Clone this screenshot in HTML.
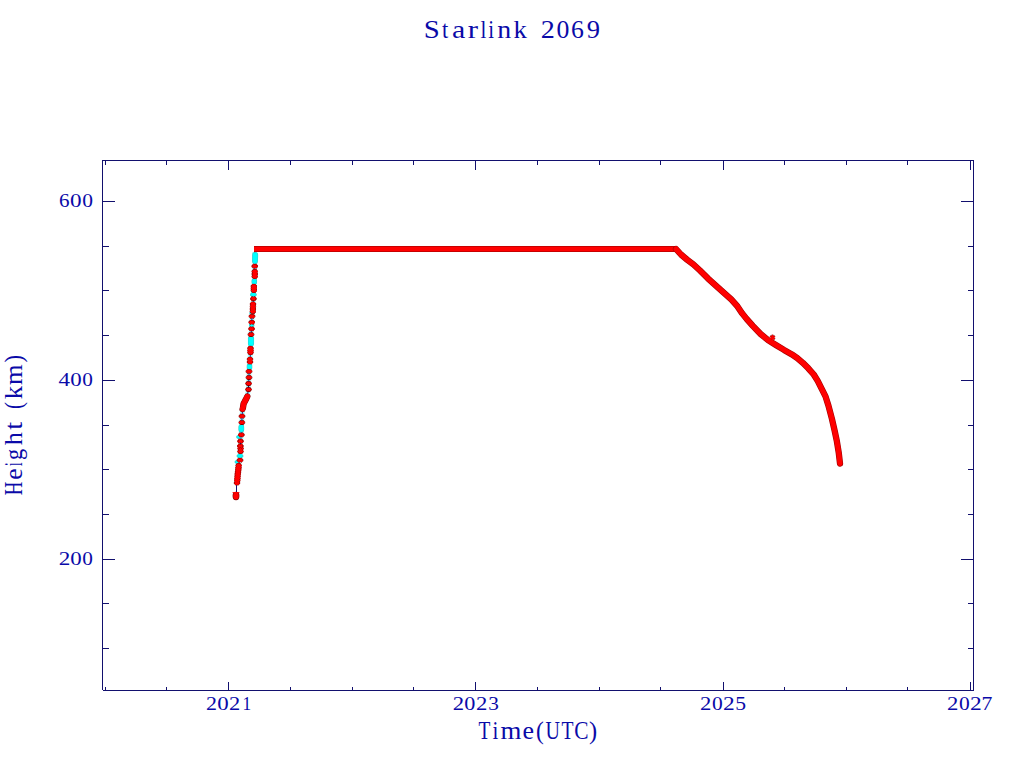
<!DOCTYPE html>
<html><head><meta charset="utf-8"><title>Starlink 2069</title>
<style>html,body{margin:0;padding:0;background:#fff;}svg{display:block;}</style>
</head><body>
<svg width="1024" height="768" viewBox="0 0 1024 768">
<rect x="0" y="0" width="1024" height="768" fill="#fff"/>
<g fill="#12106E" shape-rendering="crispEdges">
<rect x="102" y="160" width="872" height="1"/>
<rect x="102" y="160" width="1" height="530"/>
<rect x="103" y="690" width="871" height="1"/>
<rect x="973" y="160" width="1" height="531"/>
<rect x="228" y="682" width="1" height="8"/>
<rect x="228" y="161" width="1" height="9"/>
<rect x="475" y="682" width="1" height="8"/>
<rect x="475" y="161" width="1" height="9"/>
<rect x="723" y="682" width="1" height="8"/>
<rect x="723" y="161" width="1" height="9"/>
<rect x="970" y="682" width="1" height="8"/>
<rect x="970" y="161" width="1" height="9"/>
<rect x="105" y="687" width="1" height="3"/>
<rect x="105" y="161" width="1" height="4"/>
<rect x="166" y="687" width="1" height="3"/>
<rect x="166" y="161" width="1" height="4"/>
<rect x="290" y="687" width="1" height="3"/>
<rect x="290" y="161" width="1" height="4"/>
<rect x="352" y="687" width="1" height="3"/>
<rect x="352" y="161" width="1" height="4"/>
<rect x="413" y="687" width="1" height="3"/>
<rect x="413" y="161" width="1" height="4"/>
<rect x="537" y="687" width="1" height="3"/>
<rect x="537" y="161" width="1" height="4"/>
<rect x="599" y="687" width="1" height="3"/>
<rect x="599" y="161" width="1" height="4"/>
<rect x="660" y="687" width="1" height="3"/>
<rect x="660" y="161" width="1" height="4"/>
<rect x="784" y="687" width="1" height="3"/>
<rect x="784" y="161" width="1" height="4"/>
<rect x="846" y="687" width="1" height="3"/>
<rect x="846" y="161" width="1" height="4"/>
<rect x="907" y="687" width="1" height="3"/>
<rect x="907" y="161" width="1" height="4"/>
<rect x="103" y="201" width="12" height="1"/>
<rect x="961" y="201" width="12" height="1"/>
<rect x="103" y="380" width="12" height="1"/>
<rect x="961" y="380" width="12" height="1"/>
<rect x="103" y="559" width="12" height="1"/>
<rect x="961" y="559" width="12" height="1"/>
<rect x="103" y="246" width="6" height="1"/>
<rect x="968" y="246" width="5" height="1"/>
<rect x="103" y="290" width="6" height="1"/>
<rect x="968" y="290" width="5" height="1"/>
<rect x="103" y="335" width="6" height="1"/>
<rect x="968" y="335" width="5" height="1"/>
<rect x="103" y="425" width="6" height="1"/>
<rect x="968" y="425" width="5" height="1"/>
<rect x="103" y="469" width="6" height="1"/>
<rect x="968" y="469" width="5" height="1"/>
<rect x="103" y="514" width="6" height="1"/>
<rect x="968" y="514" width="5" height="1"/>
<rect x="103" y="603" width="6" height="1"/>
<rect x="968" y="603" width="5" height="1"/>
<rect x="103" y="648" width="6" height="1"/>
<rect x="968" y="648" width="5" height="1"/>
</g>
<polyline points="237,483 238.5,465 240,460.2 240,456 240.5,450 240.5,441.2 241.3,434.8 241.3,428.3 241.9,422.5 242,416.2 242.6,409 243.2,405 245.7,399.8 247.3,395.9 248.5,389.5 248.6,383.5 249,377.5 249,371.4 249.5,367 250,360.5 250.5,350.3 251,341 251,334.5 251.6,328.8 251.8,322.3 252,316.3 252.9,309.7 253,305 253.4,298.7 253.3,294.6 253.9,288.4 254.3,281.5 254.8,274 254.8,266.2 255,258 254.5,252" fill="none" stroke="#A8FFFF" stroke-width="5" stroke-linejoin="round"/>
<polyline points="236,496 236.5,492 236.5,486 237,483 238.5,465 240,460.2 240,456 240.5,450 240.5,441.2 241.3,434.8 241.3,428.3 241.9,422.5 242,416.2 242.6,409 243.2,405 245.7,399.8 247.3,395.9 248.5,389.5 248.6,383.5 249,377.5 249,371.4 249.5,367 250,360.5 250.5,350.3 251,341 251,334.5 251.6,328.8 251.8,322.3 252,316.3 252.9,309.7 253,305 253.4,298.7 253.3,294.6 253.9,288.4 254.3,281.5 254.8,274 254.8,266.2 255,258 254.5,252" fill="none" stroke="#12106E" stroke-width="1"/>
<polyline points="255.2,255 255,261" fill="none" stroke="#3FBFBF" stroke-width="5.9" stroke-linecap="round" stroke-linejoin="round"/>
<polyline points="255.2,255 255,261" fill="none" stroke="#00FFFF" stroke-width="5.0" stroke-linecap="round" stroke-linejoin="round"/>
<polyline points="254.3,281 254.3,282" fill="none" stroke="#3FBFBF" stroke-width="5.5" stroke-linecap="round" stroke-linejoin="round"/>
<polyline points="254.3,281 254.3,282" fill="none" stroke="#00FFFF" stroke-width="4.6" stroke-linecap="round" stroke-linejoin="round"/>
<path d="M250.1 294.6L256.5 294.6M251.38 292.68L255.22 296.52M255.22 292.68L251.38 296.52" stroke="#3FBFBF" stroke-width="2.05" fill="none"/>
<circle cx="253.3" cy="294.6" r="2.05" fill="#3FBFBF"/>
<path d="M250.1 294.6L256.5 294.6M251.38 292.68L255.22 296.52M255.22 292.68L251.38 296.52" stroke="#00FFFF" stroke-width="1.15" fill="none"/>
<circle cx="253.3" cy="294.6" r="1.6" fill="#00FFFF"/>
<path d="M249.6 313.2L254.8 313.2M250.64 311.64L253.76 314.76M253.76 311.64L250.64 314.76" stroke="#3FBFBF" stroke-width="1.9" fill="none"/>
<circle cx="252.2" cy="313.2" r="1.65" fill="#3FBFBF"/>
<path d="M249.6 313.2L254.8 313.2M250.64 311.64L253.76 314.76M253.76 311.64L250.64 314.76" stroke="#00FFFF" stroke-width="1.0" fill="none"/>
<circle cx="252.2" cy="313.2" r="1.2" fill="#00FFFF"/>
<path d="M249 325.2L254.2 325.2M250.04 323.64L253.16 326.76M253.16 323.64L250.04 326.76" stroke="#3FBFBF" stroke-width="1.9" fill="none"/>
<circle cx="251.6" cy="325.2" r="1.65" fill="#3FBFBF"/>
<path d="M249 325.2L254.2 325.2M250.04 323.64L253.16 326.76M253.16 323.64L250.04 326.76" stroke="#00FFFF" stroke-width="1.0" fill="none"/>
<circle cx="251.6" cy="325.2" r="1.2" fill="#00FFFF"/>
<polyline points="251,338.5 251,343.5" fill="none" stroke="#3FBFBF" stroke-width="6.1000000000000005" stroke-linecap="round" stroke-linejoin="round"/>
<polyline points="251,338.5 251,343.5" fill="none" stroke="#00FFFF" stroke-width="5.2" stroke-linecap="round" stroke-linejoin="round"/>
<polyline points="249.5,366 249.5,367.8" fill="none" stroke="#3FBFBF" stroke-width="5.5" stroke-linecap="round" stroke-linejoin="round"/>
<polyline points="249.5,366 249.5,367.8" fill="none" stroke="#00FFFF" stroke-width="4.6" stroke-linecap="round" stroke-linejoin="round"/>
<polyline points="241.3,427 241.3,429.5" fill="none" stroke="#3FBFBF" stroke-width="5.7" stroke-linecap="round" stroke-linejoin="round"/>
<polyline points="241.3,427 241.3,429.5" fill="none" stroke="#00FFFF" stroke-width="4.8" stroke-linecap="round" stroke-linejoin="round"/>
<path d="M236.8 456L243.2 456M238.08 454.08L241.92 457.92M241.92 454.08L238.08 457.92" stroke="#3FBFBF" stroke-width="2.05" fill="none"/>
<circle cx="240" cy="456" r="2.05" fill="#3FBFBF"/>
<path d="M236.8 456L243.2 456M238.08 454.08L241.92 457.92M241.92 454.08L238.08 457.92" stroke="#00FFFF" stroke-width="1.15" fill="none"/>
<circle cx="240" cy="456" r="1.6" fill="#00FFFF"/>
<path d="M236.4 437L240.8 437M237.28 435.68L239.92 438.32M239.92 435.68L237.28 438.32" stroke="#3FBFBF" stroke-width="1.9" fill="none"/>
<circle cx="238.6" cy="437" r="1.45" fill="#3FBFBF"/>
<path d="M236.4 437L240.8 437M237.28 435.68L239.92 438.32M239.92 435.68L237.28 438.32" stroke="#00FFFF" stroke-width="1.0" fill="none"/>
<circle cx="238.6" cy="437" r="1" fill="#00FFFF"/>
<path d="M234.8 462L239.2 462M235.68 460.68L238.32 463.32M238.32 460.68L235.68 463.32" stroke="#3FBFBF" stroke-width="1.9" fill="none"/>
<circle cx="237" cy="462" r="1.45" fill="#3FBFBF"/>
<path d="M234.8 462L239.2 462M235.68 460.68L238.32 463.32M238.32 460.68L235.68 463.32" stroke="#00FFFF" stroke-width="1.0" fill="none"/>
<circle cx="237" cy="462" r="1" fill="#00FFFF"/>
<path d="M251.7 271.5L257.9 271.5M252.94 269.64L256.66 273.36M256.66 269.64L252.94 273.36" stroke="#7A0000" stroke-width="2.0" fill="none"/>
<circle cx="254.8" cy="271.5" r="2.45" fill="#7A0000"/>
<path d="M251.7 274L257.9 274M252.94 272.14L256.66 275.86M256.66 272.14L252.94 275.86" stroke="#7A0000" stroke-width="2.0" fill="none"/>
<circle cx="254.8" cy="274" r="2.45" fill="#7A0000"/>
<path d="M251.7 276.5L257.9 276.5M252.94 274.64L256.66 278.36M256.66 274.64L252.94 278.36" stroke="#7A0000" stroke-width="2.0" fill="none"/>
<circle cx="254.8" cy="276.5" r="2.45" fill="#7A0000"/>
<path d="M251.7 271.5L257.9 271.5M252.94 269.64L256.66 273.36M256.66 269.64L252.94 273.36" stroke="#FF0000" stroke-width="1.1" fill="none"/>
<circle cx="254.8" cy="271.5" r="2" fill="#FF0000"/>
<path d="M251.7 274L257.9 274M252.94 272.14L256.66 275.86M256.66 272.14L252.94 275.86" stroke="#FF0000" stroke-width="1.1" fill="none"/>
<circle cx="254.8" cy="274" r="2" fill="#FF0000"/>
<path d="M251.7 276.5L257.9 276.5M252.94 274.64L256.66 278.36M256.66 274.64L252.94 278.36" stroke="#FF0000" stroke-width="1.1" fill="none"/>
<circle cx="254.8" cy="276.5" r="2" fill="#FF0000"/>
<path d="M250.8 286.3L257 286.3M252.04 284.44L255.76 288.16M255.76 284.44L252.04 288.16" stroke="#7A0000" stroke-width="2.0" fill="none"/>
<circle cx="253.9" cy="286.3" r="2.45" fill="#7A0000"/>
<path d="M250.8 288.4L257 288.4M252.04 286.54L255.76 290.26M255.76 286.54L252.04 290.26" stroke="#7A0000" stroke-width="2.0" fill="none"/>
<circle cx="253.9" cy="288.4" r="2.45" fill="#7A0000"/>
<path d="M250.8 290.5L257 290.5M252.04 288.64L255.76 292.36M255.76 288.64L252.04 292.36" stroke="#7A0000" stroke-width="2.0" fill="none"/>
<circle cx="253.9" cy="290.5" r="2.45" fill="#7A0000"/>
<path d="M250.8 286.3L257 286.3M252.04 284.44L255.76 288.16M255.76 284.44L252.04 288.16" stroke="#FF0000" stroke-width="1.1" fill="none"/>
<circle cx="253.9" cy="286.3" r="2" fill="#FF0000"/>
<path d="M250.8 288.4L257 288.4M252.04 286.54L255.76 290.26M255.76 286.54L252.04 290.26" stroke="#FF0000" stroke-width="1.1" fill="none"/>
<circle cx="253.9" cy="288.4" r="2" fill="#FF0000"/>
<path d="M250.8 290.5L257 290.5M252.04 288.64L255.76 292.36M255.76 288.64L252.04 292.36" stroke="#FF0000" stroke-width="1.1" fill="none"/>
<circle cx="253.9" cy="290.5" r="2" fill="#FF0000"/>
<path d="M249.9 304L256.1 304M251.14 302.14L254.86 305.86M254.86 302.14L251.14 305.86" stroke="#7A0000" stroke-width="2.0" fill="none"/>
<circle cx="253" cy="304" r="2.45" fill="#7A0000"/>
<path d="M249.87 306.5L256.07 306.5M251.1 304.64L254.83 308.36M254.83 304.64L251.1 308.36" stroke="#7A0000" stroke-width="2.0" fill="none"/>
<circle cx="252.97" cy="306.5" r="2.45" fill="#7A0000"/>
<path d="M249.83 309L256.03 309M251.07 307.14L254.8 310.86M254.8 307.14L251.07 310.86" stroke="#7A0000" stroke-width="2.0" fill="none"/>
<circle cx="252.93" cy="309" r="2.45" fill="#7A0000"/>
<path d="M249.8 311.5L256 311.5M251.04 309.64L254.76 313.36M254.76 309.64L251.04 313.36" stroke="#7A0000" stroke-width="2.0" fill="none"/>
<circle cx="252.9" cy="311.5" r="2.45" fill="#7A0000"/>
<path d="M249.9 304L256.1 304M251.14 302.14L254.86 305.86M254.86 302.14L251.14 305.86" stroke="#FF0000" stroke-width="1.1" fill="none"/>
<circle cx="253" cy="304" r="2" fill="#FF0000"/>
<path d="M249.87 306.5L256.07 306.5M251.1 304.64L254.83 308.36M254.83 304.64L251.1 308.36" stroke="#FF0000" stroke-width="1.1" fill="none"/>
<circle cx="252.97" cy="306.5" r="2" fill="#FF0000"/>
<path d="M249.83 309L256.03 309M251.07 307.14L254.8 310.86M254.8 307.14L251.07 310.86" stroke="#FF0000" stroke-width="1.1" fill="none"/>
<circle cx="252.93" cy="309" r="2" fill="#FF0000"/>
<path d="M249.8 311.5L256 311.5M251.04 309.64L254.76 313.36M254.76 309.64L251.04 313.36" stroke="#FF0000" stroke-width="1.1" fill="none"/>
<circle cx="252.9" cy="311.5" r="2" fill="#FF0000"/>
<path d="M247.4 348.3L253.6 348.3M248.64 346.44L252.36 350.16M252.36 346.44L248.64 350.16" stroke="#7A0000" stroke-width="2.0" fill="none"/>
<circle cx="250.5" cy="348.3" r="2.55" fill="#7A0000"/>
<path d="M247.4 350.4L253.6 350.4M248.64 348.54L252.36 352.26M252.36 348.54L248.64 352.26" stroke="#7A0000" stroke-width="2.0" fill="none"/>
<circle cx="250.5" cy="350.4" r="2.55" fill="#7A0000"/>
<path d="M247.4 352.5L253.6 352.5M248.64 350.64L252.36 354.36M252.36 350.64L248.64 354.36" stroke="#7A0000" stroke-width="2.0" fill="none"/>
<circle cx="250.5" cy="352.5" r="2.55" fill="#7A0000"/>
<path d="M247.4 348.3L253.6 348.3M248.64 346.44L252.36 350.16M252.36 346.44L248.64 350.16" stroke="#FF0000" stroke-width="1.1" fill="none"/>
<circle cx="250.5" cy="348.3" r="2.1" fill="#FF0000"/>
<path d="M247.4 350.4L253.6 350.4M248.64 348.54L252.36 352.26M252.36 348.54L248.64 352.26" stroke="#FF0000" stroke-width="1.1" fill="none"/>
<circle cx="250.5" cy="350.4" r="2.1" fill="#FF0000"/>
<path d="M247.4 352.5L253.6 352.5M248.64 350.64L252.36 354.36M252.36 350.64L248.64 354.36" stroke="#FF0000" stroke-width="1.1" fill="none"/>
<circle cx="250.5" cy="352.5" r="2.1" fill="#FF0000"/>
<path d="M246.9 359.2L253.1 359.2M248.14 357.34L251.86 361.06M251.86 357.34L248.14 361.06" stroke="#7A0000" stroke-width="2.0" fill="none"/>
<circle cx="250" cy="359.2" r="2.45" fill="#7A0000"/>
<path d="M246.9 362L253.1 362M248.14 360.14L251.86 363.86M251.86 360.14L248.14 363.86" stroke="#7A0000" stroke-width="2.0" fill="none"/>
<circle cx="250" cy="362" r="2.45" fill="#7A0000"/>
<path d="M246.9 359.2L253.1 359.2M248.14 357.34L251.86 361.06M251.86 357.34L248.14 361.06" stroke="#FF0000" stroke-width="1.1" fill="none"/>
<circle cx="250" cy="359.2" r="2" fill="#FF0000"/>
<path d="M246.9 362L253.1 362M248.14 360.14L251.86 363.86M251.86 360.14L248.14 363.86" stroke="#FF0000" stroke-width="1.1" fill="none"/>
<circle cx="250" cy="362" r="2" fill="#FF0000"/>
<polyline points="247.3,396.5 245.7,399.8 243.6,403.7 243,407.6 242.6,409" fill="none" stroke="#7A0000" stroke-width="6.300000000000001" stroke-linecap="round" stroke-linejoin="round"/>
<polyline points="247.3,396.5 245.7,399.8 243.6,403.7 243,407.6 242.6,409" fill="none" stroke="#FF0000" stroke-width="5.4" stroke-linecap="round" stroke-linejoin="round"/>
<path d="M237.5 448.5L243.7 448.5M238.74 446.64L242.46 450.36M242.46 446.64L238.74 450.36" stroke="#7A0000" stroke-width="2.0" fill="none"/>
<circle cx="240.6" cy="448.5" r="2.45" fill="#7A0000"/>
<path d="M237.4 451.5L243.6 451.5M238.64 449.64L242.36 453.36M242.36 449.64L238.64 453.36" stroke="#7A0000" stroke-width="2.0" fill="none"/>
<circle cx="240.5" cy="451.5" r="2.45" fill="#7A0000"/>
<path d="M237.5 448.5L243.7 448.5M238.74 446.64L242.46 450.36M242.46 446.64L238.74 450.36" stroke="#FF0000" stroke-width="1.1" fill="none"/>
<circle cx="240.6" cy="448.5" r="2" fill="#FF0000"/>
<path d="M237.4 451.5L243.6 451.5M238.64 449.64L242.36 453.36M242.36 449.64L238.64 453.36" stroke="#FF0000" stroke-width="1.1" fill="none"/>
<circle cx="240.5" cy="451.5" r="2" fill="#FF0000"/>
<path d="M235.6 465.5L241.8 465.5M236.84 463.64L240.56 467.36M240.56 463.64L236.84 467.36" stroke="#7A0000" stroke-width="2.0" fill="none"/>
<circle cx="238.7" cy="465.5" r="2.45" fill="#7A0000"/>
<path d="M235.37 467.67L241.57 467.67M236.6 465.8L240.33 469.53M240.33 465.8L236.6 469.53" stroke="#7A0000" stroke-width="2.0" fill="none"/>
<circle cx="238.47" cy="467.67" r="2.45" fill="#7A0000"/>
<path d="M235.13 469.83L241.33 469.83M236.37 467.97L240.1 471.7M240.1 467.97L236.37 471.7" stroke="#7A0000" stroke-width="2.0" fill="none"/>
<circle cx="238.23" cy="469.83" r="2.45" fill="#7A0000"/>
<path d="M234.9 472L241.1 472M236.14 470.14L239.86 473.86M239.86 470.14L236.14 473.86" stroke="#7A0000" stroke-width="2.0" fill="none"/>
<circle cx="238" cy="472" r="2.45" fill="#7A0000"/>
<path d="M234.7 474.12L240.9 474.12M235.94 472.26L239.66 475.99M239.66 472.26L235.94 475.99" stroke="#7A0000" stroke-width="2.0" fill="none"/>
<circle cx="237.8" cy="474.12" r="2.45" fill="#7A0000"/>
<path d="M234.5 476.25L240.7 476.25M235.74 474.39L239.46 478.11M239.46 474.39L235.74 478.11" stroke="#7A0000" stroke-width="2.0" fill="none"/>
<circle cx="237.6" cy="476.25" r="2.45" fill="#7A0000"/>
<path d="M234.3 478.38L240.5 478.38M235.54 476.51L239.26 480.24M239.26 476.51L235.54 480.24" stroke="#7A0000" stroke-width="2.0" fill="none"/>
<circle cx="237.4" cy="478.38" r="2.45" fill="#7A0000"/>
<path d="M234.1 480.5L240.3 480.5M235.34 478.64L239.06 482.36M239.06 478.64L235.34 482.36" stroke="#7A0000" stroke-width="2.0" fill="none"/>
<circle cx="237.2" cy="480.5" r="2.45" fill="#7A0000"/>
<path d="M233.9 483L240.1 483M235.14 481.14L238.86 484.86M238.86 481.14L235.14 484.86" stroke="#7A0000" stroke-width="2.0" fill="none"/>
<circle cx="237" cy="483" r="2.45" fill="#7A0000"/>
<path d="M235.6 465.5L241.8 465.5M236.84 463.64L240.56 467.36M240.56 463.64L236.84 467.36" stroke="#FF0000" stroke-width="1.1" fill="none"/>
<circle cx="238.7" cy="465.5" r="2" fill="#FF0000"/>
<path d="M235.37 467.67L241.57 467.67M236.6 465.8L240.33 469.53M240.33 465.8L236.6 469.53" stroke="#FF0000" stroke-width="1.1" fill="none"/>
<circle cx="238.47" cy="467.67" r="2" fill="#FF0000"/>
<path d="M235.13 469.83L241.33 469.83M236.37 467.97L240.1 471.7M240.1 467.97L236.37 471.7" stroke="#FF0000" stroke-width="1.1" fill="none"/>
<circle cx="238.23" cy="469.83" r="2" fill="#FF0000"/>
<path d="M234.9 472L241.1 472M236.14 470.14L239.86 473.86M239.86 470.14L236.14 473.86" stroke="#FF0000" stroke-width="1.1" fill="none"/>
<circle cx="238" cy="472" r="2" fill="#FF0000"/>
<path d="M234.7 474.12L240.9 474.12M235.94 472.26L239.66 475.99M239.66 472.26L235.94 475.99" stroke="#FF0000" stroke-width="1.1" fill="none"/>
<circle cx="237.8" cy="474.12" r="2" fill="#FF0000"/>
<path d="M234.5 476.25L240.7 476.25M235.74 474.39L239.46 478.11M239.46 474.39L235.74 478.11" stroke="#FF0000" stroke-width="1.1" fill="none"/>
<circle cx="237.6" cy="476.25" r="2" fill="#FF0000"/>
<path d="M234.3 478.38L240.5 478.38M235.54 476.51L239.26 480.24M239.26 476.51L235.54 480.24" stroke="#FF0000" stroke-width="1.1" fill="none"/>
<circle cx="237.4" cy="478.38" r="2" fill="#FF0000"/>
<path d="M234.1 480.5L240.3 480.5M235.34 478.64L239.06 482.36M239.06 478.64L235.34 482.36" stroke="#FF0000" stroke-width="1.1" fill="none"/>
<circle cx="237.2" cy="480.5" r="2" fill="#FF0000"/>
<path d="M233.9 483L240.1 483M235.14 481.14L238.86 484.86M238.86 481.14L235.14 484.86" stroke="#FF0000" stroke-width="1.1" fill="none"/>
<circle cx="237" cy="483" r="2" fill="#FF0000"/>
<path d="M251.6 266.2L258 266.2M252.88 264.28L256.72 268.12M256.72 264.28L252.88 268.12" stroke="#7A0000" stroke-width="2.05" fill="none"/>
<circle cx="254.8" cy="266.2" r="2.05" fill="#7A0000"/>
<path d="M251.6 266.2L258 266.2M252.88 264.28L256.72 268.12M256.72 264.28L252.88 268.12" stroke="#FF0000" stroke-width="1.15" fill="none"/>
<circle cx="254.8" cy="266.2" r="1.6" fill="#FF0000"/>
<path d="M250.2 298.7L256.6 298.7M251.48 296.78L255.32 300.62M255.32 296.78L251.48 300.62" stroke="#7A0000" stroke-width="2.05" fill="none"/>
<circle cx="253.4" cy="298.7" r="2.05" fill="#7A0000"/>
<path d="M250.2 298.7L256.6 298.7M251.48 296.78L255.32 300.62M255.32 296.78L251.48 300.62" stroke="#FF0000" stroke-width="1.15" fill="none"/>
<circle cx="253.4" cy="298.7" r="1.6" fill="#FF0000"/>
<path d="M248.8 316.3L255.2 316.3M250.08 314.38L253.92 318.22M253.92 314.38L250.08 318.22" stroke="#7A0000" stroke-width="2.05" fill="none"/>
<circle cx="252" cy="316.3" r="2.05" fill="#7A0000"/>
<path d="M248.8 316.3L255.2 316.3M250.08 314.38L253.92 318.22M253.92 314.38L250.08 318.22" stroke="#FF0000" stroke-width="1.15" fill="none"/>
<circle cx="252" cy="316.3" r="1.6" fill="#FF0000"/>
<path d="M248.6 322.3L255 322.3M249.88 320.38L253.72 324.22M253.72 320.38L249.88 324.22" stroke="#7A0000" stroke-width="2.05" fill="none"/>
<circle cx="251.8" cy="322.3" r="2.05" fill="#7A0000"/>
<path d="M248.6 322.3L255 322.3M249.88 320.38L253.72 324.22M253.72 320.38L249.88 324.22" stroke="#FF0000" stroke-width="1.15" fill="none"/>
<circle cx="251.8" cy="322.3" r="1.6" fill="#FF0000"/>
<path d="M248.4 328.8L254.8 328.8M249.68 326.88L253.52 330.72M253.52 326.88L249.68 330.72" stroke="#7A0000" stroke-width="2.05" fill="none"/>
<circle cx="251.6" cy="328.8" r="2.05" fill="#7A0000"/>
<path d="M248.4 328.8L254.8 328.8M249.68 326.88L253.52 330.72M253.52 326.88L249.68 330.72" stroke="#FF0000" stroke-width="1.15" fill="none"/>
<circle cx="251.6" cy="328.8" r="1.6" fill="#FF0000"/>
<path d="M247.8 334.5L254.2 334.5M249.08 332.58L252.92 336.42M252.92 332.58L249.08 336.42" stroke="#7A0000" stroke-width="2.05" fill="none"/>
<circle cx="251" cy="334.5" r="2.05" fill="#7A0000"/>
<path d="M247.8 334.5L254.2 334.5M249.08 332.58L252.92 336.42M252.92 332.58L249.08 336.42" stroke="#FF0000" stroke-width="1.15" fill="none"/>
<circle cx="251" cy="334.5" r="1.6" fill="#FF0000"/>
<path d="M245.8 371.4L252.2 371.4M247.08 369.48L250.92 373.32M250.92 369.48L247.08 373.32" stroke="#7A0000" stroke-width="2.05" fill="none"/>
<circle cx="249" cy="371.4" r="2.05" fill="#7A0000"/>
<path d="M245.8 371.4L252.2 371.4M247.08 369.48L250.92 373.32M250.92 369.48L247.08 373.32" stroke="#FF0000" stroke-width="1.15" fill="none"/>
<circle cx="249" cy="371.4" r="1.6" fill="#FF0000"/>
<path d="M245.8 377.5L252.2 377.5M247.08 375.58L250.92 379.42M250.92 375.58L247.08 379.42" stroke="#7A0000" stroke-width="2.05" fill="none"/>
<circle cx="249" cy="377.5" r="2.05" fill="#7A0000"/>
<path d="M245.8 377.5L252.2 377.5M247.08 375.58L250.92 379.42M250.92 375.58L247.08 379.42" stroke="#FF0000" stroke-width="1.15" fill="none"/>
<circle cx="249" cy="377.5" r="1.6" fill="#FF0000"/>
<path d="M245.4 383.5L251.8 383.5M246.68 381.58L250.52 385.42M250.52 381.58L246.68 385.42" stroke="#7A0000" stroke-width="2.05" fill="none"/>
<circle cx="248.6" cy="383.5" r="2.05" fill="#7A0000"/>
<path d="M245.4 383.5L251.8 383.5M246.68 381.58L250.52 385.42M250.52 381.58L246.68 385.42" stroke="#FF0000" stroke-width="1.15" fill="none"/>
<circle cx="248.6" cy="383.5" r="1.6" fill="#FF0000"/>
<path d="M245.3 389.5L251.7 389.5M246.58 387.58L250.42 391.42M250.42 387.58L246.58 391.42" stroke="#7A0000" stroke-width="2.05" fill="none"/>
<circle cx="248.5" cy="389.5" r="2.05" fill="#7A0000"/>
<path d="M245.3 389.5L251.7 389.5M246.58 387.58L250.42 391.42M250.42 387.58L246.58 391.42" stroke="#FF0000" stroke-width="1.15" fill="none"/>
<circle cx="248.5" cy="389.5" r="1.6" fill="#FF0000"/>
<path d="M238.8 416.2L245.2 416.2M240.08 414.28L243.92 418.12M243.92 414.28L240.08 418.12" stroke="#7A0000" stroke-width="2.05" fill="none"/>
<circle cx="242" cy="416.2" r="2.05" fill="#7A0000"/>
<path d="M238.8 416.2L245.2 416.2M240.08 414.28L243.92 418.12M243.92 414.28L240.08 418.12" stroke="#FF0000" stroke-width="1.15" fill="none"/>
<circle cx="242" cy="416.2" r="1.6" fill="#FF0000"/>
<path d="M238.7 422.5L245.1 422.5M239.98 420.58L243.82 424.42M243.82 420.58L239.98 424.42" stroke="#7A0000" stroke-width="2.05" fill="none"/>
<circle cx="241.9" cy="422.5" r="2.05" fill="#7A0000"/>
<path d="M238.7 422.5L245.1 422.5M239.98 420.58L243.82 424.42M243.82 420.58L239.98 424.42" stroke="#FF0000" stroke-width="1.15" fill="none"/>
<circle cx="241.9" cy="422.5" r="1.6" fill="#FF0000"/>
<path d="M238.1 434.8L244.5 434.8M239.38 432.88L243.22 436.72M243.22 432.88L239.38 436.72" stroke="#7A0000" stroke-width="2.05" fill="none"/>
<circle cx="241.3" cy="434.8" r="2.05" fill="#7A0000"/>
<path d="M238.1 434.8L244.5 434.8M239.38 432.88L243.22 436.72M243.22 432.88L239.38 436.72" stroke="#FF0000" stroke-width="1.15" fill="none"/>
<circle cx="241.3" cy="434.8" r="1.6" fill="#FF0000"/>
<path d="M237.3 441.2L243.7 441.2M238.58 439.28L242.42 443.12M242.42 439.28L238.58 443.12" stroke="#7A0000" stroke-width="2.05" fill="none"/>
<circle cx="240.5" cy="441.2" r="2.05" fill="#7A0000"/>
<path d="M237.3 441.2L243.7 441.2M238.58 439.28L242.42 443.12M242.42 439.28L238.58 443.12" stroke="#FF0000" stroke-width="1.15" fill="none"/>
<circle cx="240.5" cy="441.2" r="1.6" fill="#FF0000"/>
<path d="M237.1 446L243.5 446M238.38 444.08L242.22 447.92M242.22 444.08L238.38 447.92" stroke="#7A0000" stroke-width="2.05" fill="none"/>
<circle cx="240.3" cy="446" r="2.05" fill="#7A0000"/>
<path d="M237.1 446L243.5 446M238.38 444.08L242.22 447.92M242.22 444.08L238.38 447.92" stroke="#FF0000" stroke-width="1.15" fill="none"/>
<circle cx="240.3" cy="446" r="1.6" fill="#FF0000"/>
<path d="M236.8 460.2L243.2 460.2M238.08 458.28L241.92 462.12M241.92 458.28L238.08 462.12" stroke="#7A0000" stroke-width="2.05" fill="none"/>
<circle cx="240" cy="460.2" r="2.05" fill="#7A0000"/>
<path d="M236.8 460.2L243.2 460.2M238.08 458.28L241.92 462.12M241.92 458.28L238.08 462.12" stroke="#FF0000" stroke-width="1.15" fill="none"/>
<circle cx="240" cy="460.2" r="1.6" fill="#FF0000"/>
<ellipse cx="236" cy="496" rx="3.4" ry="4.2" fill="#7A0000"/>
<ellipse cx="236" cy="496" rx="2.8" ry="3.6" fill="#FF0000"/>
<path d="M232.6 492.6H239.4" stroke="#FF0000" stroke-width="1"/>
<rect x="254" y="246" width="422" height="6" fill="#C80000" shape-rendering="crispEdges"/>
<rect x="254" y="247" width="422" height="4" fill="#FF0000" shape-rendering="crispEdges"/>
<path d="M772.5 334.8L772.5 340.4M770.08 336.2L774.92 339M774.92 336.2L770.08 339" stroke="#7A0000" stroke-width="2" fill="none"/>
<polyline points="676,249 681,254.5 687.5,260 693.5,264.5 700,270.5 707.8,278.3 715.6,285.3 723.4,292.3 731.25,299.4 737.5,306.4 742.2,313.4 746.6,318.9 752.8,325.9 760.6,334 768.4,340.4 776.25,345.2 784,349.9 791.9,354.4 797.3,358.1 802.8,362.8 808.3,368.3 813.75,374.5 817.7,380.8 821.6,388.6 825.5,396.4 828.4,405.5 831.9,418.7 834.6,430.5 836.9,441.4 838.7,452.4 840,463.5" fill="none" stroke="#A80000" stroke-width="6.3" stroke-linejoin="round" stroke-linecap="round"/>
<path d="M772.5 334.8L772.5 340.4M770.08 336.2L774.92 339M774.92 336.2L770.08 339" stroke="#FF0000" stroke-width="1.2" fill="none"/>
<circle cx="772.5" cy="337.6" r="1.3" fill="#FF0000"/>
<polyline points="676,249 681,254.5 687.5,260 693.5,264.5 700,270.5 707.8,278.3 715.6,285.3 723.4,292.3 731.25,299.4 737.5,306.4 742.2,313.4 746.6,318.9 752.8,325.9 760.6,334 768.4,340.4 776.25,345.2 784,349.9 791.9,354.4 797.3,358.1 802.8,362.8 808.3,368.3 813.75,374.5 817.7,380.8 821.6,388.6 825.5,396.4 828.4,405.5 831.9,418.7 834.6,430.5 836.9,441.4 838.7,452.4 840,463.5" fill="none" stroke="#FF0000" stroke-width="5.0" stroke-linejoin="round" stroke-linecap="round"/>
<g fill="#0A0AA8" font-family="Liberation Serif, serif">
<text y="38" font-size="26"><tspan x="423.87" textLength="16.01" lengthAdjust="spacingAndGlyphs">S</tspan><tspan x="441.98" textLength="6.25" lengthAdjust="spacingAndGlyphs">t</tspan><tspan x="451.95" textLength="13.26" lengthAdjust="spacingAndGlyphs">a</tspan><tspan x="467.68" textLength="10.29" lengthAdjust="spacingAndGlyphs">r</tspan><tspan x="480.48" textLength="5.84" lengthAdjust="spacingAndGlyphs">l</tspan><tspan x="488.36" textLength="5.84" lengthAdjust="spacingAndGlyphs">i</tspan><tspan x="497.26" textLength="13.96" lengthAdjust="spacingAndGlyphs">n</tspan><tspan x="513.49" textLength="13.41" lengthAdjust="spacingAndGlyphs">k</tspan><tspan x="526.9"> </tspan><tspan x="540.66" textLength="14.09" lengthAdjust="spacingAndGlyphs">2</tspan><tspan x="556.42" textLength="12.86" lengthAdjust="spacingAndGlyphs">0</tspan><tspan x="571.09" textLength="12.87" lengthAdjust="spacingAndGlyphs">6</tspan><tspan x="586.85" textLength="13.24" lengthAdjust="spacingAndGlyphs">9</tspan></text>
<text y="207" font-size="19.3"><tspan x="58.99" textLength="10.53" lengthAdjust="spacingAndGlyphs">6</tspan><tspan x="70.12" textLength="11.56" lengthAdjust="spacingAndGlyphs">0</tspan><tspan x="82.18" textLength="10.74" lengthAdjust="spacingAndGlyphs">0</tspan></text>
<text y="386" font-size="19.3"><tspan x="58.55" textLength="11.51" lengthAdjust="spacingAndGlyphs">4</tspan><tspan x="70.33" textLength="11.44" lengthAdjust="spacingAndGlyphs">0</tspan><tspan x="82.29" textLength="10.62" lengthAdjust="spacingAndGlyphs">0</tspan></text>
<text y="565" font-size="19.3"><tspan x="58.78" textLength="11.6" lengthAdjust="spacingAndGlyphs">2</tspan><tspan x="70.33" textLength="11.44" lengthAdjust="spacingAndGlyphs">0</tspan><tspan x="82.29" textLength="10.62" lengthAdjust="spacingAndGlyphs">0</tspan></text>
<text y="710" font-size="19.3"><tspan x="205.94" textLength="10.98" lengthAdjust="spacingAndGlyphs">2</tspan><tspan x="217.33" textLength="11.44" lengthAdjust="spacingAndGlyphs">0</tspan><tspan x="228.91" textLength="11.23" lengthAdjust="spacingAndGlyphs">2</tspan><tspan x="242.48" textLength="8.66" lengthAdjust="spacingAndGlyphs">1</tspan></text>
<text y="710" font-size="19.3"><tspan x="452.8" textLength="11.35" lengthAdjust="spacingAndGlyphs">2</tspan><tspan x="464.36" textLength="11.09" lengthAdjust="spacingAndGlyphs">0</tspan><tspan x="475.9" textLength="11.35" lengthAdjust="spacingAndGlyphs">2</tspan><tspan x="488.18" textLength="10.65" lengthAdjust="spacingAndGlyphs">3</tspan></text>
<text y="710" font-size="19.3"><tspan x="699.9" textLength="11.35" lengthAdjust="spacingAndGlyphs">2</tspan><tspan x="712.08" textLength="10.74" lengthAdjust="spacingAndGlyphs">0</tspan><tspan x="722.97" textLength="11.72" lengthAdjust="spacingAndGlyphs">2</tspan><tspan x="735.15" textLength="10.8" lengthAdjust="spacingAndGlyphs">5</tspan></text>
<text y="710" font-size="19.3"><tspan x="946.9" textLength="11.35" lengthAdjust="spacingAndGlyphs">2</tspan><tspan x="959.08" textLength="10.74" lengthAdjust="spacingAndGlyphs">0</tspan><tspan x="969.97" textLength="11.72" lengthAdjust="spacingAndGlyphs">2</tspan><tspan x="981.57" textLength="10.86" lengthAdjust="spacingAndGlyphs">7</tspan></text>
<text y="739" font-size="24.5"><tspan x="478.55" textLength="11.87" lengthAdjust="spacingAndGlyphs">T</tspan><tspan x="492.56" textLength="5.84" lengthAdjust="spacingAndGlyphs">i</tspan><tspan x="500.64" textLength="20.88" lengthAdjust="spacingAndGlyphs">m</tspan><tspan x="522.49" textLength="11.51" lengthAdjust="spacingAndGlyphs">e</tspan><tspan x="535.97" textLength="7.78" lengthAdjust="spacingAndGlyphs">(</tspan><tspan x="545.58" textLength="14.44" lengthAdjust="spacingAndGlyphs">U</tspan><tspan x="561.55" textLength="11.98" lengthAdjust="spacingAndGlyphs">T</tspan><tspan x="574.32" textLength="14.26" lengthAdjust="spacingAndGlyphs">C</tspan><tspan x="589.01" textLength="8.17" lengthAdjust="spacingAndGlyphs">)</tspan></text>
<text transform="rotate(-90)" y="22" font-size="24.5"><tspan x="-495.24" textLength="13.59" lengthAdjust="spacingAndGlyphs">H</tspan><tspan x="-479.69" textLength="11.27" lengthAdjust="spacingAndGlyphs">e</tspan><tspan x="-466.07" textLength="3.62" lengthAdjust="spacingAndGlyphs">i</tspan><tspan x="-460.05" textLength="11.07" lengthAdjust="spacingAndGlyphs">g</tspan><tspan x="-445.26" textLength="13.1" lengthAdjust="spacingAndGlyphs">h</tspan><tspan x="-429.68" textLength="7.84" lengthAdjust="spacingAndGlyphs">t</tspan><tspan x="-421.83"> </tspan><tspan x="-408.91" textLength="6.87" lengthAdjust="spacingAndGlyphs">(</tspan><tspan x="-399.31" textLength="13.31" lengthAdjust="spacingAndGlyphs">k</tspan><tspan x="-384.96" textLength="20.57" lengthAdjust="spacingAndGlyphs">m</tspan><tspan x="-362.43" textLength="7.52" lengthAdjust="spacingAndGlyphs">)</tspan></text>
</g>
</svg>
</body></html>
